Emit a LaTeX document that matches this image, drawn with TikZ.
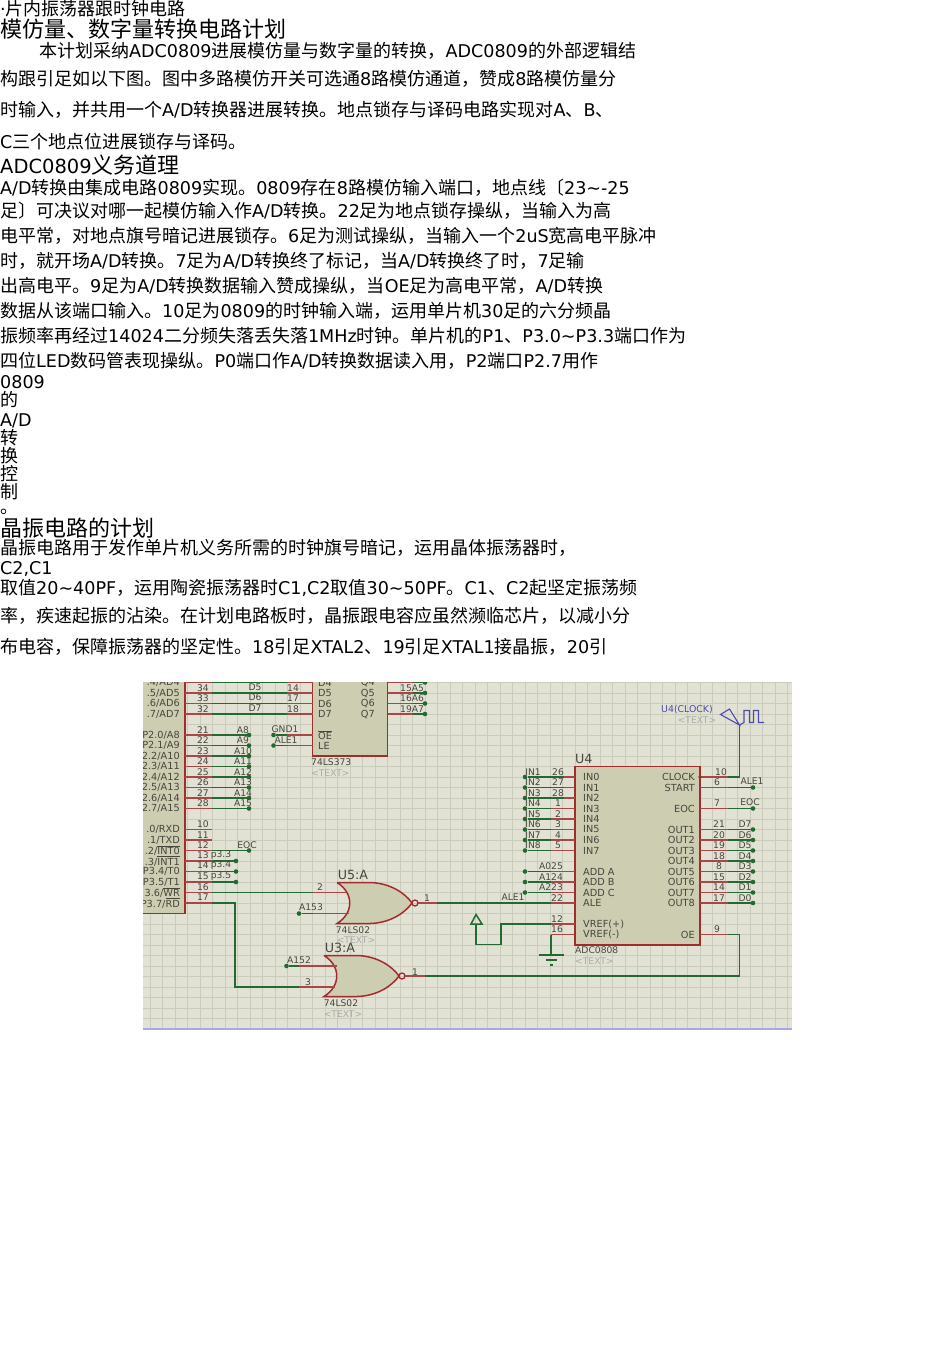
\documentclass[tikz,border=0pt]{standalone}
\usepackage{fontspec}
\setmainfont[Scale=0.975]{DejaVu Sans}
\newfontfamily\cjk{Noto Sans CJK SC}
\newcommand{\zh}[1]{{\cjk #1}}
\newcommand{\ovl}[1]{$\overline{\hbox{#1}}$}
\definecolor{sheet}{RGB}{226,226,212}
\definecolor{gridc}{RGB}{203,203,188}
\definecolor{chipfill}{RGB}{205,205,178}
\definecolor{chipred}{RGB}{160,45,45}
\definecolor{wirered}{RGB}{170,70,70}
\definecolor{wiregreen}{RGB}{35,105,50}
\definecolor{lblc}{RGB}{70,70,60}
\definecolor{genblue}{RGB}{75,75,175}
\tikzset{
  bodyline/.style={anchor=base west, inner sep=0pt, font=\fontsize{18}{20}\selectfont},
  headline/.style={anchor=base west, inner sep=0pt, font=\fontsize{22}{24}\selectfont},
  chip/.style={draw=chipred, fill=chipfill, line width=1.5pt, anchor=north west, inner sep=0pt, outer sep=0pt},
  redwire/.style={draw=wirered, line width=1.5pt},
  greenwire/.style={draw=wiregreen, line width=1.5pt},
  pindot/.style={circle, fill=wiregreen, inner sep=0pt, minimum size=4.6pt},
  lbl/.style={inner sep=0pt, text=lblc, font=\fontsize{9.4}{10}\selectfont},
  pinname/.style={lbl, font=\fontsize{10}{10}\selectfont},
  hidetext/.style={inner sep=0pt, text=black!33, font=\fontsize{9.4}{10}\selectfont},
  refname/.style={inner sep=0pt, text=lblc, font=\fontsize{13}{14}\selectfont},
  norgate/.pic={
    \path[draw=chipred, fill=chipfill, line width=1.5pt] (0,-20.5) -- (33,-20.5) .. controls (53,-20) and (68,-10) .. (75,0)
      .. controls (68,10) and (53,20) .. (33,20.5) -- (0,20.5) .. controls (17,10) and (17,-10) .. (0,-20.5);
    \draw[chipred, line width=1.3pt] (78,0) circle (3pt);
    \coordinate (-out) at (81,0);
  }
}
\begin{document}
\begin{tikzpicture}[x=1pt, y=-1pt]
  \useasboundingbox (0,0) rectangle (950,1345);

  % text
  \node[bodyline] (t1) at (0,15) {·\zh{片内振荡器跟时钟电路}};
  \node[headline] (t2) at (0,37) {\zh{模仿量、数字量转换电路计划}};
  \node[bodyline] (t3) at (39,57) {\zh{本计划采纳}ADC0809\zh{进展模仿量与数字量的转换，}ADC0809\zh{的外部逻辑结}};
  \node[bodyline] (t4) at (0,85) {\zh{构跟引足如以下图。图中多路模仿开关可选通}8\zh{路模仿通道，赞成}8\zh{路模仿量分}};
  \node[bodyline] (t5) at (0,116.5) {\zh{时输入，并共用一个}A/D\zh{转换器进展转换。地点锁存与译码电路实现对}A\zh{、}B\zh{、}};
  \node[bodyline] (t6) at (0,148) {C\zh{三个地点位进展锁存与译码。}};
  \node[headline] (t7) at (0,173) {{\fontsize{20}{24}\selectfont ADC0809}\zh{义务道理}};
  \node[bodyline] (t8) at (0,194) {A/D\zh{转换由集成电路}0809\zh{实现。}0809\zh{存在}8\zh{路模仿输入端口，地点线〔}23\textasciitilde-25};
  \node[bodyline] (t9) at (0,217) {\zh{足〕可决议对哪一起模仿输入作}A/D\zh{转换。}22\zh{足为地点锁存操纵，当输入为高}};
  \node[bodyline] (t10) at (0,242) {\zh{电平常，对地点旗号暗记进展锁存。}6\zh{足为测试操纵，当输入一个}2uS\zh{宽高电平脉冲}};
  \node[bodyline] (t11) at (0,267) {\zh{时，就开场}A/D\zh{转换。}7\zh{足为}A/D\zh{转换终了标记，当}A/D\zh{转换终了时，}7\zh{足输}};
  \node[bodyline] (t12) at (0,292) {\zh{出高电平。}9\zh{足为}A/D\zh{转换数据输入赞成操纵，当}OE\zh{足为高电平常，}A/D\zh{转换}};
  \node[bodyline] (t13) at (0,317) {\zh{数据从该端口输入。}10\zh{足为}0809\zh{的时钟输入端，运用单片机}30\zh{足的六分频晶}};
  \node[bodyline] (t14) at (0,342) {\zh{振频率再经过}14024\zh{二分频失落丢失落}1MHz\zh{时钟。单片机的}P1\zh{、}P3.0\textasciitilde P3.3\zh{端口作为}};
  \node[bodyline] (t15) at (0,367) {\zh{四位}LED\zh{数码管表现操纵。}P0\zh{端口作}A/D\zh{转换数据读入用，}P2\zh{端口}P2.7\zh{用作}};
  \node[bodyline] (t16) at (0,388) {0809};
  \node[bodyline] (t17) at (0,406) {\zh{的}};
  \node[bodyline] (t18) at (0,426) {A/D};
  \node[bodyline] (t19) at (0,444) {\zh{转}};
  \node[bodyline] (t20) at (0,462) {\zh{换}};
  \node[bodyline] (t21) at (0,480) {\zh{控}};
  \node[bodyline] (t22) at (0,498) {\zh{制}};
  \node[bodyline] (t23) at (0,513) {\zh{。}};
  \node[headline] (t24) at (0,536) {\zh{晶振电路的计划}};
  \node[bodyline] (t25) at (0,554) {\zh{晶振电路用于发作单片机义务所需的时钟旗号暗记，运用晶体振荡器时，}};
  \node[bodyline] (t26) at (0,574) {C2,C1};
  \node[bodyline] (t27) at (0,594) {\zh{取值}20\textasciitilde 40PF\zh{，运用陶瓷振荡器时}C1,C2\zh{取值}30\textasciitilde 50PF\zh{。}C1\zh{、}C2\zh{起坚定振荡频}};
  \node[bodyline] (t28) at (0,622) {\zh{率，疾速起振的沾染。在计划电路板时，晶振跟电容应虽然濒临芯片，以减小分}};
  \node[bodyline] (t29) at (0,653) {\zh{布电容，保障振荡器的坚定性。}18\zh{引足}XTAL2\zh{、}19\zh{引足}XTAL1\zh{接晶振，}20\zh{引}};

  % schematic
  \begin{scope}
    \clip (143,682) rectangle (792,1030);
    \fill[sheet] (143,682) rectangle (792,1030);
    \draw[gridc, line width=0.8pt, xstep=12.5pt, ystep=10.5pt] (143,682) grid (792,1030);
    \draw[black!20!blue!35, line width=1.6pt] (143,1029) -- (792,1029);

    \node[chip, minimum width=75pt, minimum height=241.5pt] (mcu) at (110,672) {};
    \node[chip, minimum width=75pt, minimum height=84pt] (ls373) at (312.5,672) {};
    \node[chip, minimum width=125pt, minimum height=178.5pt] (u4) at (575,766.5) {};

    % mcu names
    \foreach \y/\txt [count=\i] in {682.5/{.4/AD4}, 693/{.5/AD5}, 703.5/{.6/AD6}, 714/{.7/AD7}, 735/{P2.0/A8}, 745.5/{P2.1/A9},
        756/{2.2/A10}, 766.5/{2.3/A11}, 777/{2.4/A12}, 787.5/{2.5/A13}, 798/{2.6/A14}, 808.5/{2.7/A15}, 829.5/{.0/RXD}, 840/{.1/TXD},
        850.5/{.2/\ovl{INT0}}, 861/{.3/\ovl{INT1}}, 871.5/{P3.4/T0}, 882/{P3.5/T1}, 892.5/{3.6/\ovl{WR}}, 903/{P3.7/\ovl{RD}}}
      \node[pinname, anchor=east] (mcuname\i) at (180,\y) {\txt};

    % P0 to the latch
    \foreach \y/\a/\d/\b/\nm [count=\i] in {682.5/35/D4/13/D4, 693/34/D5/14/D5, 703.5/33/D6/17/D6, 714/32/D7/18/D7} {
      \coordinate (busa\i) at (212,\y);
      \coordinate (busb\i) at (287,\y);
      \draw[redwire] (mcu.east |- busa\i) -- (busa\i);
      \draw[greenwire] (busa\i) -- (busb\i);
      \draw[redwire] (busb\i) -- (ls373.west |- busb\i);
      \node[lbl] (busan\i) at (203,\y-5) {\a};
      \node[lbl] (busdn\i) at (255,\y-6) {\d};
      \node[lbl] (busbn\i) at (293,\y-5) {\b};
      \node[pinname, anchor=west] (lsd\i) at (318,\y) {\nm};
    }

    % latch outputs
    \foreach \y/\num/\lab/\nm [count=\i] in {682.5/12/A4/Q4, 693/15/A5/Q5, 703.5/16/A6/Q6, 714/19/A7/Q7} {
      \node[pindot] (qdot\i) at (425,\y) {};
      \coordinate (qm\i) at (413,\y);
      \draw[redwire] (ls373.east |- qm\i) -- (qm\i);
      \draw[greenwire] (qm\i) -- (qdot\i);
      \node[lbl] (qnum\i) at (406,\y-5) {\num};
      \node[lbl] (qlab\i) at (418,\y-5) {\lab};
      \node[pinname, anchor=east] (lsq\i) at (375,\y) {\nm};
    }

    % P2
    \foreach \y/\num/\lab [count=\i] in {735/21/A8, 745.5/22/A9, 756/23/A10, 766.5/24/A11, 777/25/A12, 787.5/26/A13, 798/27/A14, 808.5/28/A15} {
      \node[pindot] (adot\i) at (249,\y) {};
      \coordinate (am\i) at (212,\y);
      \draw[redwire] (mcu.east |- am\i) -- (am\i);
      \draw[greenwire] (am\i) -- (adot\i);
      \node[lbl] (anum\i) at (203,\y-5) {\num};
      \node[lbl] (alab\i) at (243,\y-5) {\lab};
    }

    % latch OE and LE
    \node[pindot] (gnddot) at (273.5,735) {};
    \node[pindot] (aledot) at (273.5,745.5) {};
    \coordinate (oem) at (287,735);
    \coordinate (lem) at (287,745.5);
    \draw[greenwire] (gnddot) -- (oem);
    \draw[greenwire] (aledot) -- (lem);
    \draw[redwire] (oem) -- (ls373.west |- oem);
    \draw[redwire] (lem) -- (ls373.west |- lem);
    \node[lbl] (gndlab) at (285,729) {GND1};
    \node[lbl] (alelab) at (286,740) {ALE1};
    \node[pinname, anchor=west] (lsoe) at (318,735) {\ovl{OE}};
    \node[pinname, anchor=west] (lsle) at (318,745.5) {LE};
    \node[lbl, anchor=west] (lspart) at (311,762) {74LS373};
    \node[hidetext, anchor=west] (lstext) at (311,773) {<TEXT>};

    % P3
    \foreach \y/\num [count=\i] in {829.5/10, 840/11} {
      \coordinate (pm\i) at (212,\y);
      \draw[redwire] (mcu.east |- pm\i) -- (pm\i);
      \node[lbl] (pnum\i) at (203,\y-5) {\num};
    }
    \node[pindot] (eocdot) at (249,850.5) {};
    \coordinate (eocm) at (212,850.5);
    \draw[redwire] (mcu.east |- eocm) -- (eocm);
    \draw[greenwire] (eocm) -- (eocdot);
    \node[lbl] (eocnum) at (203,845) {12};
    \node[lbl] (eoclab) at (247,845) {EOC};
    \foreach \y/\num/\lab [count=\i] in {861/13/p3.3, 871.5/14/p3.4, 882/15/p3.5} {
      \node[pindot] (tdot\i) at (236,\y) {};
      \coordinate (tm\i) at (212,\y);
      \draw[redwire] (mcu.east |- tm\i) -- (tm\i);
      \draw[greenwire] (tm\i) -- (tdot\i);
      \node[lbl] (tnum\i) at (203,\y-6) {\num};
      \node[lbl] (tlab\i) at (221,\y-6) {\lab};
    }

    % gates
    \pic (u5gate) at (337,903) {norgate};
    \pic (u3gate) at (324,976) {norgate};
    \node[refname] (u5ref) at (353,875) {U5:A};
    \node[refname] (u3ref) at (340,948) {U3:A};
    \node[lbl] (u5part) at (353,930) {74LS02};
    \node[hidetext] (u5text) at (356,940) {<TEXT>};
    \node[lbl] (u3part) at (341,1003) {74LS02};
    \node[hidetext] (u3text) at (343,1014) {<TEXT>};

    % P3.6 into U5
    \coordinate (wra) at (212,892.5);
    \coordinate (wrb) at (312.5,892.5);
    \coordinate (wrc) at (348,892.5);
    \draw[redwire] (mcu.east |- wra) -- (wra);
    \draw[greenwire] (wra) -- (wrb);
    \draw[redwire] (wrb) -- (wrc);
    \node[lbl] (wrnum) at (203,887) {16};
    \node[lbl] (u5two) at (320,887) {2};
    \node[pindot] (a153dot) at (299,913.5) {};
    \coordinate (a153b) at (312.5,913.5);
    \coordinate (a153c) at (349,913.5);
    \draw[greenwire] (a153dot) -- (a153b);
    \draw[redwire] (a153b) -- (a153c);
    \node[lbl] (a153lab) at (311,907.5) {A153};

    % P3.7 into U3
    \coordinate (rda) at (212,903);
    \coordinate (rdb) at (235,903);
    \coordinate (rdc) at (235,987);
    \coordinate (rdd) at (299,987);
    \coordinate (rde) at (335,987);
    \draw[redwire] (mcu.east |- rda) -- (rda);
    \draw[greenwire] (rda) -- (rdb) -- (rdc) -- (rdd);
    \draw[redwire] (rdd) -- (rde);
    \node[lbl] (rdnum) at (203,897.5) {17};
    \node[lbl] (u3three) at (308,982) {3};
    \node[pindot] (a152dot) at (286.5,966) {};
    \coordinate (a152b) at (299,966);
    \coordinate (a152c) at (336.5,966);
    \draw[greenwire] (a152dot) -- (a152b);
    \draw[redwire] (a152b) -- (a152c);
    \node[lbl] (a152lab) at (299,960) {A152};

    % U4 pins
    \node[refname, anchor=west] (u4ref) at (575,759) {U4};
    \node[lbl, anchor=west] (u4part) at (575,950.5) {ADC0808};
    \node[hidetext, anchor=west] (u4text) at (575,961) {<TEXT>};
    \foreach \y/\num/\lab/\nm/\xs [count=\i] in {777/26/IN1/IN0/564, 787.5/27/IN2/IN1/564, 798/28/IN3/IN2/564, 808.5/1/IN4/IN3/551,
        819/2/IN5/IN4/551, 829.5/3/IN6/IN5/551, 840/4/IN7/IN6/551, 850.5/5/IN8/IN7/551} {
      \node[pindot] (indot\i) at (525,\y) {};
      \coordinate (inm\i) at (\xs,\y);
      \draw[greenwire] (indot\i) -- (inm\i);
      \draw[redwire] (inm\i) -- (u4.west |- inm\i);
      \node[lbl] (innum\i) at (558,\y-5) {\num};
      \node[lbl] (inlab\i) at (533,\y-5) {\lab};
      \node[pinname, anchor=west] (inname\i) at (583,\y) {\nm};
    }
    \foreach \y/\lab/\nm [count=\i] in {871.5/A025/ADD A, 882/A124/ADD B, 892.5/A223/ADD C} {
      \node[pindot] (adddot\i) at (525,\y) {};
      \coordinate (addm\i) at (551,\y);
      \draw[greenwire] (adddot\i) -- (addm\i);
      \draw[redwire] (addm\i) -- (u4.west |- addm\i);
      \node[lbl] (addlab\i) at (551,\y-5) {\lab};
      \node[pinname, anchor=west] (addname\i) at (583,\y) {\nm};
    }
    \foreach \y/\nm [count=\i] in {903/ALE, 924/VREF(+), 934.5/VREF(-)}
      \node[pinname, anchor=west] (lowname\i) at (583,\y) {\nm};
    \foreach \y/\num/\nm [count=\i] in {777/10/CLOCK, 787.5/6/START, 808.5/7/EOC, 934.5/9/OE}
      \node[pinname, anchor=east] (rname\i) at (695,\y) {\nm};
    \foreach \y/\nm [count=\i] in {829.5/OUT1, 840/OUT2, 850.5/OUT3, 861/OUT4, 871.5/OUT5, 882/OUT6, 892.5/OUT7, 903/OUT8}
      \node[pinname, anchor=east] (oname\i) at (695,\y) {\nm};

    % ALE from U5 to U4
    \coordinate (u5a) at (437,903);
    \coordinate (alem) at (551,903);
    \draw[redwire] (u5gate-out) -- (u5a);
    \draw[greenwire] (u5a) -- (alem);
    \draw[redwire] (alem) -- (u4.west |- alem);
    \node[lbl] (u5one) at (427,898) {1};
    \node[lbl] (ale1lab) at (513,897.5) {ALE1};
    \node[lbl] (alenum) at (557,898) {22};

    % VREF(+) and the power arrow
    \coordinate (pwr) at (476,924);
    \coordinate (pwrb) at (476,944.5);
    \coordinate (pwrc) at (501,944.5);
    \coordinate (pwrd) at (501,924);
    \coordinate (pwre) at (551,924);
    \draw[greenwire] (pwr) -- (pwrb) -- (pwrc) -- (pwrd) -- (pwre);
    \draw[redwire] (pwre) -- (u4.west |- pwre);
    \draw[greenwire] (471,924) -- (476,914.5) -- (482,924) -- cycle;
    \node[lbl] (vrefpnum) at (557,919) {12};

    % VREF(-) and ground
    \coordinate (gnda) at (551,934.5);
    \coordinate (gndb) at (551,955);
    \draw[redwire] (gnda) -- (u4.west |- gnda);
    \draw[greenwire] (gnda) -- (gndb);
    \draw[greenwire] (539,955) -- (564,955);
    \draw[greenwire] (546,960) -- (557,960);
    \draw[greenwire] (549.5,965) -- (552.5,965);
    \node[lbl] (vrefmnum) at (557,929) {16};

    % clock
    \coordinate (clka) at (728,777);
    \coordinate (clkb) at (739.5,777);
    \coordinate (clkc) at (739.5,725);
    \draw[redwire] (u4.east |- clka) -- (clka);
    \node[circle, fill=chipred, inner sep=0pt, minimum size=3.6pt] (clkdot) at (u4.east |- clka) {};
    \draw[greenwire] (clka) -- (clkb) -- (clkc);
    \draw[genblue, line width=1.1pt] (clkc) -- (720.5,714.5) -- (729.5,709) -- cycle;
    \draw[genblue, line width=1.1pt] (clkc) -- (744,722.5) -- (744,710.5) -- (749.5,710.5) -- (749.5,722.5) -- (753.5,722.5)
      -- (753.5,710.5) -- (758.5,710.5) -- (758.5,722.5) -- (764,722.5);
    \node[inner sep=0pt, text=genblue, font=\fontsize{9.6}{10}\selectfont] (genlab) at (687,710) {U4(CLOCK)};
    \node[hidetext] (gentext) at (697,720) {<TEXT>};
    \node[lbl] (clknum) at (721,772.5) {10};

    % START, EOC
    \foreach \y/\num/\lab/\xl [count=\i] in {787.5/6/ALE1/752, 808.5/7/EOC/750} {
      \node[pindot] (rdot\i) at (753,\y) {};
      \coordinate (rm\i) at (728,\y);
      \draw[redwire] (u4.east |- rm\i) -- (rm\i);
      \draw[greenwire] (rm\i) -- (rdot\i);
      \node[lbl] (rnum\i) at (717,\y-5) {\num};
      \node[lbl] (rlab\i) at (\xl,\y-6) {\lab};
    }

    % OUT pins
    \foreach \y/\num/\lab [count=\i] in {829.5/21/D7, 840/20/D6, 850.5/19/D5, 861/18/D4, 871.5/8/D3, 882/15/D2, 892.5/14/D1, 903/17/D0} {
      \node[pindot] (odot\i) at (753,\y) {};
      \coordinate (om\i) at (728,\y);
      \draw[redwire] (u4.east |- om\i) -- (om\i);
      \draw[greenwire] (om\i) -- (odot\i);
      \node[lbl] (onum\i) at (719,\y-5) {\num};
      \node[lbl] (olab\i) at (745,\y-5) {\lab};
    }

    % OE back to U3
    \coordinate (u3a) at (425,976);
    \coordinate (oeb) at (739.5,976);
    \coordinate (oec) at (739.5,934.5);
    \coordinate (oed) at (728,934.5);
    \draw[redwire] (u3gate-out) -- (u3a);
    \draw[greenwire] (u3a) -- (oeb) -- (oec) -- (oed);
    \draw[redwire] (oed) -- (u4.east |- oed);
    \node[lbl] (u3one) at (415,972) {1};
    \node[lbl] (oenum) at (717,929.5) {9};
  \end{scope}
\end{tikzpicture}
\end{document}
